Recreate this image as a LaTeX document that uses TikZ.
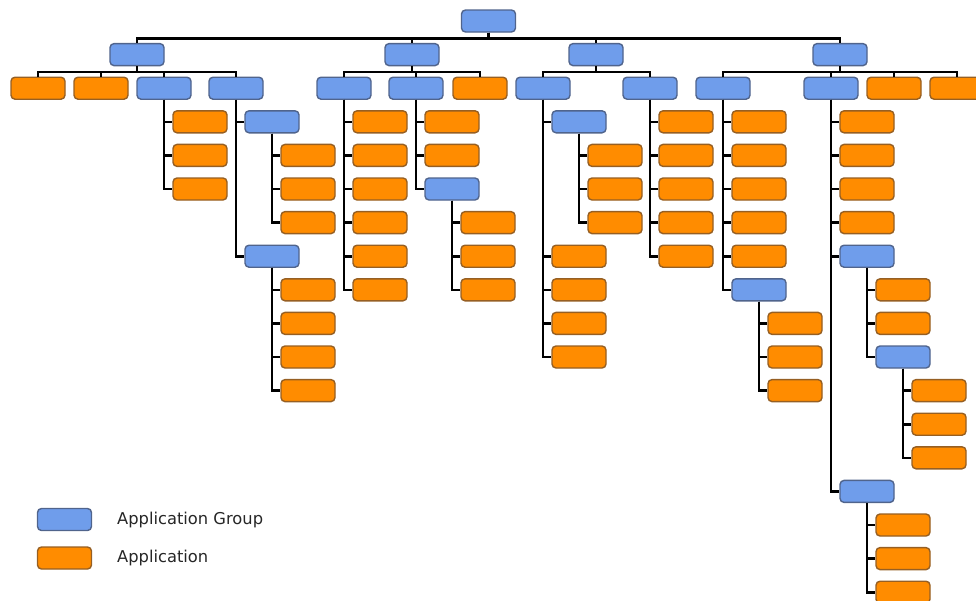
\documentclass[tikz,border=0pt]{standalone}
\usepackage{fontspec}
\setmainfont{DejaVu Sans}
\definecolor{grpfill}{RGB}{111,157,235}
\definecolor{grpdraw}{RGB}{80,100,140}
\definecolor{appfill}{RGB}{255,140,0}
\definecolor{appdraw}{RGB}{150,95,35}
\tikzset{
  box/.style={rounded corners=4pt,minimum width=54pt,minimum height=22pt,inner sep=0pt,line width=1.4pt},
  grp/.style={box,fill=grpfill,draw=grpdraw},
  app/.style={box,fill=appfill,draw=appdraw},
  conn/.style={line width=2.6pt,black},
  lbl/.style={anchor=west,inner sep=0pt,text=black!85,font=\fontsize{16.3}{19}\selectfont}
}
\begin{document}
\begin{tikzpicture}[x=1pt,y=-1pt]
\useasboundingbox (0,0) rectangle (976,600);
% row centres: r0 21, r1 54.6, r2 88.2, r3 121.8, r4 155.4, r5 189, r6 222.6, r7 256.2, r8 289.8,
% r9 323.4, r10 357, r11 390.6, r12 424.2, r13 457.8, r14 491.4, r15 525, r16 558.6, r17 592.2
\node[grp] (root) at (488.5,21) {};
\node[grp] (A) at (137,54.6) {};
\node[grp] (B) at (412,54.6) {};
\node[grp] (C) at (596,54.6) {};
\node[grp] (D) at (840,54.6) {};
\foreach \n in {A,B,C,D} \draw[conn] (root.south) -- ++(0,6) -| (\n.north);
% level 2
\node[app] (A1) at (38,88.2) {};
\node[app] (A2) at (101,88.2) {};
\node[grp] (A3) at (164,88.2) {};
\node[grp] (A4) at (236,88.2) {};
\foreach \n in {A1,A2,A3,A4} \draw[conn] (A.south) -- ++(0,5.5) -| (\n.north);
\node[grp] (B1) at (344,88.2) {};
\node[grp] (B2) at (416,88.2) {};
\node[app] (B3) at (480,88.2) {};
\foreach \n in {B1,B2,B3} \draw[conn] (B.south) -- ++(0,5.5) -| (\n.north);
\node[grp] (C1) at (543,88.2) {};
\node[grp] (C2) at (650,88.2) {};
\foreach \n in {C1,C2} \draw[conn] (C.south) -- ++(0,5.5) -| (\n.north);
\node[grp] (D1) at (723,88.2) {};
\node[grp] (D2) at (831,88.2) {};
\node[app] (D3) at (894,88.2) {};
\node[app] (D4) at (957,88.2) {};
\foreach \n in {D1,D2,D3,D4} \draw[conn] (D.south) -- ++(0,5.5) -| (\n.north);
% A3
\foreach \y [count=\i] in {121.8,155.4,189} {
  \node[app] (A3c\i) at (200,\y) {};
  \draw[conn] (A3.south) |- (A3c\i.west);}
% A4
\node[grp] (A4a) at (272,121.8) {};
\node[grp] (A4b) at (272,256.2) {};
\draw[conn] (A4.south) |- (A4a.west);
\draw[conn] (A4.south) |- (A4b.west);
\foreach \y [count=\i] in {155.4,189,222.6} {
  \node[app] (A4ac\i) at (308,\y) {};
  \draw[conn] (A4a.south) |- (A4ac\i.west);}
\foreach \y [count=\i] in {289.8,323.4,357,390.6} {
  \node[app] (A4bc\i) at (308,\y) {};
  \draw[conn] (A4b.south) |- (A4bc\i.west);}
% B1
\foreach \y [count=\i] in {121.8,155.4,189,222.6,256.2,289.8} {
  \node[app] (B1c\i) at (380,\y) {};
  \draw[conn] (B1.south) |- (B1c\i.west);}
% B2
\node[app] (B2a) at (452,121.8) {};
\node[app] (B2b) at (452,155.4) {};
\node[grp] (B2c) at (452,189) {};
\foreach \n in {B2a,B2b,B2c} \draw[conn] (B2.south) |- (\n.west);
\foreach \y [count=\i] in {222.6,256.2,289.8} {
  \node[app] (B2cc\i) at (488,\y) {};
  \draw[conn] (B2c.south) |- (B2cc\i.west);}
% C1
\node[grp] (C1a) at (579,121.8) {};
\draw[conn] (C1.south) |- (C1a.west);
\foreach \y [count=\i] in {256.2,289.8,323.4,357} {
  \node[app] (C1c\i) at (579,\y) {};
  \draw[conn] (C1.south) |- (C1c\i.west);}
\foreach \y [count=\i] in {155.4,189,222.6} {
  \node[app] (C1ac\i) at (615,\y) {};
  \draw[conn] (C1a.south) |- (C1ac\i.west);}
% C2
\foreach \y [count=\i] in {121.8,155.4,189,222.6,256.2} {
  \node[app] (C2c\i) at (686,\y) {};
  \draw[conn] (C2.south) |- (C2c\i.west);}
% D1
\foreach \y [count=\i] in {121.8,155.4,189,222.6,256.2} {
  \node[app] (D1c\i) at (759,\y) {};
  \draw[conn] (D1.south) |- (D1c\i.west);}
\node[grp] (D1f) at (759,289.8) {};
\draw[conn] (D1.south) |- (D1f.west);
\foreach \y [count=\i] in {323.4,357,390.6} {
  \node[app] (D1fc\i) at (795,\y) {};
  \draw[conn] (D1f.south) |- (D1fc\i.west);}
% D2
\foreach \y [count=\i] in {121.8,155.4,189,222.6} {
  \node[app] (D2c\i) at (867,\y) {};
  \draw[conn] (D2.south) |- (D2c\i.west);}
\node[grp] (D2e) at (867,256.2) {};
\node[grp] (D2f) at (867,491.4) {};
\draw[conn] (D2.south) |- (D2e.west);
\draw[conn] (D2.south) |- (D2f.west);
\node[app] (D2ea) at (903,289.8) {};
\node[app] (D2eb) at (903,323.4) {};
\node[grp] (D2ec) at (903,357) {};
\foreach \n in {D2ea,D2eb,D2ec} \draw[conn] (D2e.south) |- (\n.west);
\foreach \y [count=\i] in {390.6,424.2,457.8} {
  \node[app] (D2ecc\i) at (939,\y) {};
  \draw[conn] (D2ec.south) |- (D2ecc\i.west);}
\foreach \y [count=\i] in {525,558.6,592.2} {
  \node[app] (D2fc\i) at (903,\y) {};
  \draw[conn] (D2f.south) |- (D2fc\i.west);}
% legend
\node[grp] (lg) at (64.5,519.5) {};
\node[app] (la) at (64.5,558) {};
\node[lbl] (lgt) at (117,520) {Application Group};
\node[lbl] (lat) at (117,558) {Application};
\end{tikzpicture}
\end{document}
